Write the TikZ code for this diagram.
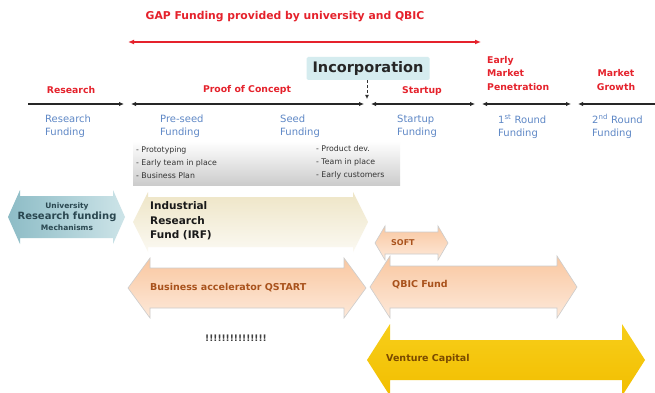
\documentclass[tikz,border=0pt]{standalone}
\usepackage{fontspec}
\setmainfont{DejaVu Sans}
\newfontfamily\arialfont{Liberation Sans}
\usetikzlibrary{arrows.meta}
\definecolor{gapred}{HTML}{E5222C}
\definecolor{fundblue}{HTML}{5F88C6}
\definecolor{incfill}{HTML}{D5ECEF}
\definecolor{uniA}{HTML}{8DBCC6}
\definecolor{uniB}{HTML}{CDE4E8}
\definecolor{unitext}{HTML}{2A4750}
\definecolor{irfA}{HTML}{EEE5C6}
\definecolor{irfB}{HTML}{FBF9F2}
\definecolor{orA}{HTML}{F9C7A0}
\definecolor{orM}{HTML}{F8B386}
\definecolor{orB}{HTML}{FDE9DA}
\definecolor{ortext}{HTML}{A9521C}
\definecolor{vcA}{HTML}{F7CE1A}
\definecolor{vcB}{HTML}{F2BE00}
\definecolor{vctext}{HTML}{7A4A00}
\newcommand\fundarrow[7]{%
  \path[#1] (#2,#4) -- ({#2+#7},{#4-#6}) -- ({#2+#7},{#4-#5}) -- ({#3-#7},{#4-#5})
    -- ({#3-#7},{#4-#6}) -- (#3,#4) -- ({#3-#7},{#4+#6}) -- ({#3-#7},{#4+#5})
    -- ({#2+#7},{#4+#5}) -- ({#2+#7},{#4+#6}) -- cycle;}
\begin{document}
\begin{tikzpicture}[x=1pt,y=-1pt,
  tl/.style={line width=1.6pt,draw=black!85,-{Latex[length=5pt,width=4.5pt]}},
  tlb/.style={line width=1.6pt,draw=black!85,{Latex[length=5pt,width=4.5pt]}-{Latex[length=5pt,width=4.5pt]}},
  tll/.style={line width=1.6pt,draw=black!85,{Latex[length=5pt,width=4.5pt]}-},
  phase/.style={font=\bfseries\fontsize{9.3}{13.5}\selectfont,text=gapred,inner sep=0pt,align=left},
  fund/.style={font=\fontsize{10}{13}\selectfont,text=fundblue,inner sep=0pt,align=left,anchor=west},
  task/.style={font=\fontsize{7.8}{13}\selectfont,text=black!80,inner sep=0pt,align=left,anchor=west},
  bar/.style={font=\bfseries\fontsize{9.5}{10}\selectfont,inner sep=0pt,anchor=west},
]
\useasboundingbox (0,0) rectangle (655,393);
\fill[white] (0,0) rectangle (655,393);

% GAP funding
\node[font=\bfseries\fontsize{10.8}{12}\selectfont,text=gapred,inner sep=0pt] (gap) at (285,17) {GAP Funding provided by university and QBIC};
\coordinate (gapL) at (128,42);
\coordinate (gapR) at (481,42);
\draw[line width=1.8pt,gapred,{Latex[length=6pt,width=5pt]}-{Latex[length=6pt,width=5pt]}] (gapL) -- (gapR);

% timeline
\coordinate (t0) at (28,104);
\coordinate (t1) at (124,104);
\coordinate (t2) at (131,104);
\coordinate (t3) at (364,104);
\coordinate (t4) at (371,104);
\coordinate (t5) at (475,104);
\coordinate (t6) at (482,104);
\coordinate (t7) at (571,104);
\coordinate (t8) at (578,104);
\coordinate (t9) at (655,104);
\draw[tl] (t0) -- (t1);
\draw[tlb] (t2) -- (t3);
\draw[tlb] (t4) -- (t5);
\draw[tlb] (t6) -- (t7);
\draw[tll] (t8) -- (t9);

% incorporation
\node[fill=incfill,rounded corners=1.5pt,minimum width=123pt,minimum height=23pt,inner sep=0pt,
  font=\bfseries\fontsize{14.5}{15}\selectfont,text=black!85] (inc) at (368,68.5) {Incorporation};
\coordinate (incpt) at (367,99);
\draw[line width=0.8pt,black!80,densely dashed,-{Latex[length=4pt,width=4pt]}] (inc.south) ++(-1,0) coordinate (incs) (incs) -- (incpt);

% phase labels
\node[phase] (p1) at (71,90) {Research};
\node[phase] (p2) at (247,90) {Proof of Concept};
\node[phase] (p3) at (422,91) {Startup};
\node[phase,anchor=west] (p4) at (487,73.5) {Early\\Market\\Penetration};
\node[phase,align=center] (p5) at (616,80) {Market\\Growth};

% funding labels
\node[fund] (f1) at (45,126.5) {Research\\Funding};
\node[fund] (f2) at (160,126.5) {Pre-seed\\Funding};
\node[fund] (f3) at (280,126.5) {Seed\\Funding};
\node[fund] (f4) at (397,126.5) {Startup\\Funding};
\node[fund] (f5) at (498,126.5) {1\textsuperscript{st} Round\\Funding};
\node[fund] (f6) at (592,126.5) {2\textsuperscript{nd} Round\\Funding};

% task box
\shade[top color=white,bottom color=black!20] (133,141) rectangle (400,185);
\node[task] (ta) at (136,162.5) {- Prototyping\\- Early team in place\\- Business Plan};
\node[task] (tb) at (316,162.5) {- Product dev.\\- Team in place\\- Early customers};

% funding arrows
\fundarrow{left color=uniA,right color=uniB}{8}{125}{217}{21}{27}{12}
\node[inner sep=0pt,align=center,text=unitext] (uni) at (67,217)
  {{\bfseries\fontsize{7.5}{13}\selectfont University}\\[-1pt]{\bfseries\fontsize{10}{13}\selectfont Research funding}\\[-1pt]{\bfseries\fontsize{7.5}{13}\selectfont Mechanisms}};

\fundarrow{top color=irfA,bottom color=irfB}{133}{368}{222}{25}{30}{15}
\node[bar,align=left,text=black!90,font=\bfseries\fontsize{10.5}{14.5}\selectfont] (irf) at (150,221) {Industrial\\Research\\Fund (IRF)};

\fundarrow{top color=orA,middle color=orM,bottom color=orB,draw=black!20,line width=0.6pt}{128}{366}{288}{20}{30}{22}
\node[bar,text=ortext] (qstart) at (150,288) {Business accelerator QSTART};

\fundarrow{top color=orA,middle color=orM,bottom color=orB,draw=black!20,line width=0.6pt}{375}{448}{243}{11}{17}{10}
\node[bar,text=ortext,font=\bfseries\fontsize{8}{9}\selectfont] (soft) at (391,243) {SOFT};

\fundarrow{top color=orA,middle color=orM,bottom color=orB,draw=black!20,line width=0.6pt}{370}{577}{287}{21}{31}{20}
\node[bar,text=ortext,font=\bfseries\fontsize{9.5}{10}\selectfont] (qbic) at (392,285) {QBIC Fund};

\fundarrow{top color=vcA,bottom color=vcB}{367}{645}{360}{20}{36}{23}
\node[bar,text=vctext,font=\bfseries\fontsize{9.5}{10}\selectfont] (vc) at (386,359) {Venture Capital};

\node[font=\bfseries\fontsize{9}{10}\selectfont,text=black!75,inner sep=0pt] (excl) at (236,338) {!!!!!!!!!!!!!!!};
\end{tikzpicture}
\end{document}
